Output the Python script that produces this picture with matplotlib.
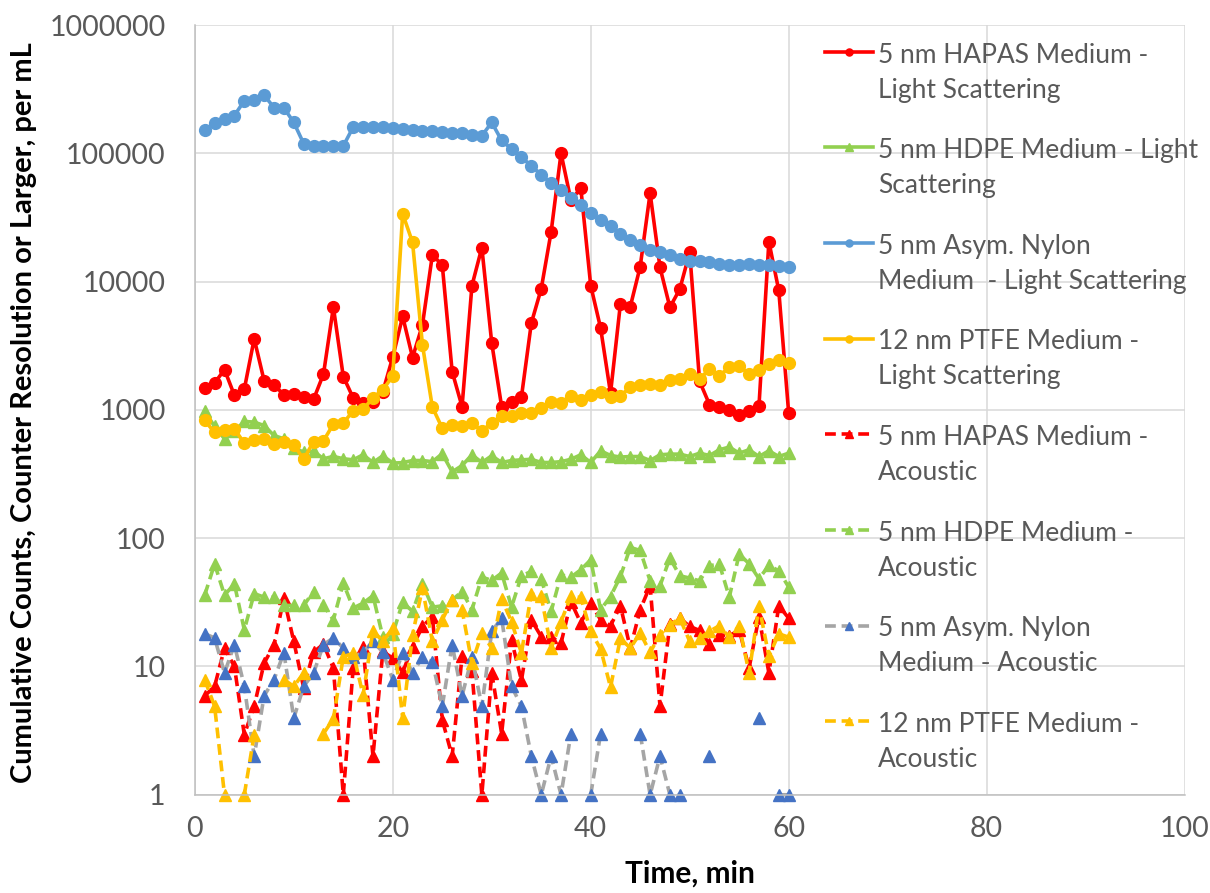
import numpy as np
import matplotlib
matplotlib.use("Agg")
import matplotlib.pyplot as plt

plt.rcParams['font.family'] = ['Lato', 'DejaVu Sans']

nan = np.nan
minutes = np.arange(1, 61)

# light scattering counts
red_ls = [1480, 1620, 2060, 1300, 1450, 3580, 1690, 1570, 1310, 1340,
          1260, 1210, 1900, 6320, 1820, 1240, 1140, 1150, 1390, 2580,
          5350, 2560, 4600, 16100, 13500, 1990, 1060, 9300, 18400, 3320,
          1060, 1160, 1260, 4750, 8790, 24400, 100000, 43000, 53500, 9300,
          4340, 1350, 6710, 6390, 13100, 48900, 12900, 6300, 8740, 16900,
          1670, 1100, 1060, 1000, 916, 972, 1077, 20500, 8530, 944]
green_ls = [972, 743, 595, 679, 813, 803, 755, 631, 595, 504,
            469, 476, 416, 434, 416, 408, 447, 389, 439, 385,
            388, 403, 403, 395, 455, 329, 368, 447, 389, 439,
            389, 403, 408, 412, 389, 389, 395, 412, 447, 389,
            480, 441, 429, 433, 433, 403, 447, 452, 452, 433,
            460, 441, 489, 513, 460, 489, 433, 480, 433, 460]
blue_ls = [152000, 172000, 186000, 197000, 257000, 261000, 284000, 227000, 226000, 174000,
           119000, 114000, 114000, 115000, 114000, 160000, 160000, 160000, 160000, 158000,
           155000, 152000, 150000, 148000, 146000, 145000, 143000, 140000, 137000, 174000,
           126000, 108000, 93000, 80000, 68000, 58700, 51300, 44800, 39700, 34200,
           30300, 26900, 23400, 21100, 19200, 17700, 16900, 16000, 15000, 14600,
           14400, 14100, 13700, 13500, 13500, 13600, 13400, 13500, 13300, 13000]
yellow_ls = [827, 667, 691, 709, 551, 585, 592, 544, 567, 535,
             412, 567, 574, 775, 789, 984, 1010, 1240, 1435, 1840,
             33800, 20200, 3210, 1050, 721, 766, 743, 789, 687, 789,
             900, 900, 944, 940, 1030, 1150, 1140, 1290, 1190, 1300,
             1370, 1270, 1290, 1500, 1550, 1600, 1550, 1720, 1740, 1910,
             1740, 2080, 1850, 2140, 2210, 1900, 2030, 2290, 2430, 2340]

# acoustic counts (nan = zero, not shown on log axis)
red_a = [5.9, 7, 13.9, 10, 2.94, 4.9, 10.6, 14.7, 34.1, 15.7,
         6.8, 13, 14.9, 9.7, 1, 9.7, 14.3, 2, 13.1, 11.6,
         9, 14.3, 20.5, 24.5, 3.84, 2, 12, 9.2, 1, 8.9,
         3, 16, 7.8, 23, 17.1, 17, 15.2, 32, 21.8, 31.2,
         23.1, 20.8, 29.7, 13.9, 27.7, 42.6, 4.9, 21.5, 23.8, 20.5,
         19.1, 15, 17.7, 17.3, 19.3, 9.7, 24.5, 8.9, 29.7, 23.8]
green_a = [36, 63, 36, 44, 19.3, 37, 34.7, 34.7, 29.9, 29.9,
           29.9, 38.4, 29.9, 23.1, 44.7, 28.5, 31.2, 35.6, 17, 18,
           31.6, 26.9, 44.3, 29, 29.7, 33, 38.4, 27.7, 49.7, 46.9,
           53.5, 29, 51, 55, 48, 26.9, 51.8, 49.7, 56.7, 67.9,
           27.7, 35.1, 50.3, 84.7, 80.2, 46.5, 42.6, 70, 50.9, 48.9,
           46.5, 61, 62.8, 34.7, 75.2, 63.2, 48.3, 61.3, 55.7, 41.6]
nylon_a = [18, 16.7, 8.9, 14.8, 7, 2, 5.9, 7.9, 12.8, 3.95,
           7, 8.9, 14.8, 16.7, 13.9, 11.8, 12.9, 15.7, 12.9, 7.9,
           12.7, 8.9, 11.8, 10.9, 4.9, 14.8, 5.9, 11.8, 4.9, 18.8,
           23.8, 7, 4.9, 2, 1, 2, 1, 3, nan, 1,
           3, nan, nan, nan, 3, 1, 2, 1, 1, nan,
           nan, 2, nan, nan, nan, nan, 4, nan, 1, 1]
yellow_a = [7.9, 4.9, 1, nan, 1, 2.94, nan, nan, 7.9, 7,
            8.9, nan, 3, 3.9, 11.9, 12.7, 6, 19, 15.7, 19.9,
            3.96, 17.7, 40.8, 15.7, 23.1, 33.1, 27.7, 10.6, 18.2, 13.9,
            33.5, 22.4, 12.7, 36.9, 35.2, 13.9, 22.4, 35.2, 34.5, 18.8,
            13.7, 6.9, 16.6, 13.9, 18.2, 12.9, 17.7, 21.1, 23.8, 15.7,
            16.6, 18.8, 20.8, 16.9, 20.8, 8.9, 29.7, 12, 18, 16.9]

labels = ["5 nm HAPAS Medium -\nLight Scattering",
          "5 nm HDPE Medium - Light\nScattering",
          "5 nm Asym. Nylon\nMedium  - Light Scattering",
          "12 nm PTFE Medium -\nLight Scattering",
          "5 nm HAPAS Medium -\nAcoustic",
          "5 nm HDPE Medium -\nAcoustic",
          "5 nm Asym. Nylon\nMedium - Acoustic",
          "12 nm PTFE Medium -\nAcoustic"]
yticks = [1, 10, 100, 1000, 10000, 100000, 1000000]

RED, GREEN, BLUE, YELLOW = '#FF0000', '#92D050', '#5B9BD5', '#FFC000'
GRAY, DBLUE = '#A5A5A5', '#4472C4'

fig = plt.figure(figsize=(12.1, 8.93), dpi=100)
ax = fig.add_axes([0.161, 0.110, 0.818, 0.862])

ls_style = dict(lw=2.6, marker='o', ms=8.5)
ax.plot(minutes, red_ls, color=RED, label=labels[0], **ls_style)
ax.plot(minutes, green_ls, color=GREEN, label=labels[1], lw=2.6, marker='^', ms=8.5)
ax.plot(minutes, blue_ls, color=BLUE, label=labels[2], **ls_style)
ax.plot(minutes, yellow_ls, color=YELLOW, label=labels[3], **ls_style)

ac_style = dict(lw=2.6, ls=(0, (3, 1.6)), marker='^', ms=8.5, clip_on=False)
ax.plot(minutes, red_a, color=RED, label=labels[4], **ac_style)
ax.plot(minutes, green_a, color=GREEN, label=labels[5], **ac_style)
ax.plot(minutes, nylon_a, color=GRAY, mfc=DBLUE, mec=DBLUE, label=labels[6], **ac_style)
ax.plot(minutes, yellow_a, color=YELLOW, label=labels[7], **ac_style)

ax.set_yscale('log')
ax.set_ylim(1, 1e6)
ax.set_xlim(0, 100)
ax.set_xticks(np.arange(0, 101, 20))
ax.set_yticks(yticks)
ax.set_yticklabels([str(v) for v in yticks])
ax.minorticks_off()
ax.grid(True, color='#D9D9D9', lw=1.1)
ax.set_axisbelow(True)
for s in ['top', 'right']:
    ax.spines[s].set_visible(False)
for s in ['left', 'bottom']:
    ax.spines[s].set_color('#BFBFBF')
    ax.spines[s].set_linewidth(1.1)
ax.tick_params(length=0, labelsize=20.5, labelcolor='#595959')
ax.tick_params(axis='x', pad=15)
ax.tick_params(axis='y', pad=21)

ax.set_xlabel('Time, min', fontsize=21.5, fontweight='bold', labelpad=13)
ax.set_ylabel('Cumulative Counts, Counter Resolution or Larger, per mL',
              fontsize=21, fontweight='bold')
ax.yaxis.set_label_coords(-0.159, 0.497)

leg = ax.legend(loc='upper left', bbox_to_anchor=(0.613, 1.008), frameon=False,
                fontsize=19, labelcolor='#595959', handlelength=1.8,
                handletextpad=0.2, labelspacing=1.35, markerscale=0.6)
for t in leg.get_texts():
    t.set_linespacing(1.5)
for col in leg._legend_handle_box.get_children():
    for row in col.get_children():
        row.align = 'top'

fig.savefig('out.png', dpi=100)
